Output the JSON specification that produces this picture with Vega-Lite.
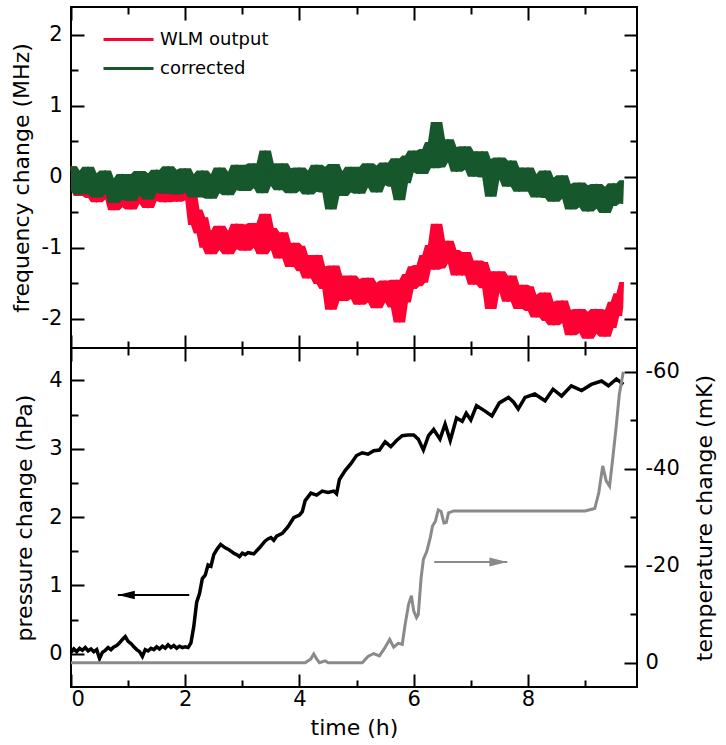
{
  "$schema": "https://vega.github.io/schema/vega-lite/v6.json",
  "padding": {"left": 9, "top": 5, "right": 5, "bottom": 5},
  "bounds": "flush",
  "spacing": 0,
  "config": {
    "font": "DejaVu Sans",
    "view": {"stroke": "#000000", "strokeWidth": 2},
    "axis": {"labelFont": "DejaVu Sans", "titleFont": "DejaVu Sans", "labelFontSize": 21, "titleFontSize": 22, "titleFontWeight": "normal", "labelColor": "#000000", "titleColor": "#000000", "ticks": true, "tickColor": "#000000", "tickWidth": 2, "domain": false, "grid": false}
  },
  "datasets": {
    "freq": [
      {"t":0.00,"w":0.15,"c":0.15},{"t":0.05,"w":-0.19,"c":-0.19},{"t":0.10,"w":0.05,"c":0.06},{"t":0.15,"w":-0.27,"c":-0.25},{"t":0.20,"w":0.07,"c":0.09},
      {"t":0.25,"w":-0.17,"c":-0.14},{"t":0.30,"w":0.10,"c":0.14},{"t":0.35,"w":-0.30,"c":-0.25},{"t":0.40,"w":-0.09,"c":-0.03},{"t":0.45,"w":-0.36,"c":-0.29},
      {"t":0.50,"w":-0.03,"c":0.05},{"t":0.55,"w":-0.32,"c":-0.24},{"t":0.60,"w":0.00,"c":0.09},{"t":0.65,"w":-0.28,"c":-0.19},{"t":0.70,"w":-0.12,"c":-0.02},
      {"t":0.75,"w":-0.47,"c":-0.37},{"t":0.80,"w":-0.17,"c":-0.07},{"t":0.85,"w":-0.43,"c":-0.32},{"t":0.90,"w":-0.07,"c":0.04},{"t":0.95,"w":-0.38,"c":-0.26},
      {"t":1.00,"w":-0.15,"c":-0.03},{"t":1.05,"w":-0.46,"c":-0.34},{"t":1.10,"w":-0.08,"c":0.04},{"t":1.15,"w":-0.33,"c":-0.21},{"t":1.20,"w":-0.04,"c":0.08},
      {"t":1.25,"w":-0.38,"c":-0.26},{"t":1.30,"w":-0.16,"c":-0.04},{"t":1.35,"w":-0.44,"c":-0.32},{"t":1.40,"w":-0.07,"c":0.05},{"t":1.45,"w":-0.34,"c":-0.22},
      {"t":1.50,"w":-0.02,"c":0.10},{"t":1.55,"w":-0.26,"c":-0.14},{"t":1.60,"w":-0.08,"c":0.04},{"t":1.65,"w":-0.36,"c":-0.24},{"t":1.70,"w":0.04,"c":0.15},
      {"t":1.75,"w":-0.30,"c":-0.19},{"t":1.80,"w":-0.08,"c":0.03},{"t":1.85,"w":-0.35,"c":-0.25},{"t":1.90,"w":0.00,"c":0.10},{"t":1.95,"w":-0.26,"c":-0.16},
      {"t":2.00,"w":0.02,"c":0.12},{"t":2.05,"w":-0.33,"c":-0.22},{"t":2.10,"w":-0.20,"c":0.02},{"t":2.15,"w":-0.68,"c":-0.29},{"t":2.20,"w":-0.46,"c":0.04},
      {"t":2.25,"w":-0.80,"c":-0.20},{"t":2.30,"w":-0.57,"c":0.09},{"t":2.35,"w":-1.00,"c":-0.29},{"t":2.40,"w":-0.82,"c":-0.06},{"t":2.45,"w":-1.09,"c":-0.31},
      {"t":2.50,"w":-0.76,"c":0.04},{"t":2.55,"w":-1.03,"c":-0.23},{"t":2.60,"w":-0.69,"c":0.13},{"t":2.65,"w":-0.95,"c":-0.13},{"t":2.70,"w":-0.76,"c":0.07},
      {"t":2.75,"w":-1.09,"c":-0.26},{"t":2.80,"w":-0.78,"c":0.05},{"t":2.85,"w":-1.02,"c":-0.19},{"t":2.90,"w":-0.66,"c":0.17},{"t":2.95,"w":-0.96,"c":-0.12},
      {"t":3.00,"w":-0.72,"c":0.12},{"t":3.05,"w":-1.04,"c":-0.20},{"t":3.10,"w":-0.67,"c":0.17},{"t":3.15,"w":-0.94,"c":-0.10},{"t":3.20,"w":-0.65,"c":0.19},
      {"t":3.25,"w":-1.00,"c":-0.16},{"t":3.30,"w":-0.79,"c":0.06},{"t":3.35,"w":-1.09,"c":-0.23},{"t":3.40,"w":-0.52,"c":0.37},{"t":3.45,"w":-1.03,"c":-0.13},
      {"t":3.50,"w":-0.72,"c":0.19},{"t":3.55,"w":-0.99,"c":-0.06},{"t":3.60,"w":-0.84,"c":0.10},{"t":3.65,"w":-1.15,"c":-0.19},{"t":3.70,"w":-0.78,"c":0.19},
      {"t":3.75,"w":-1.15,"c":-0.16},{"t":3.80,"w":-0.96,"c":0.05},{"t":3.85,"w":-1.27,"c":-0.23},{"t":3.90,"w":-0.93,"c":0.12},{"t":3.95,"w":-1.22,"c":-0.14},
      {"t":4.00,"w":-0.97,"c":0.13},{"t":4.05,"w":-1.33,"c":-0.20},{"t":4.10,"w":-1.10,"c":0.05},{"t":4.15,"w":-1.43,"c":-0.25},{"t":4.20,"w":-1.11,"c":0.09},
      {"t":4.25,"w":-1.36,"c":-0.13},{"t":4.30,"w":-1.10,"c":0.17},{"t":4.35,"w":-1.51,"c":-0.21},{"t":4.40,"w":-1.30,"c":0.03},{"t":4.45,"w":-1.58,"c":-0.22},
      {"t":4.50,"w":-1.26,"c":0.14},{"t":4.55,"w":-1.87,"c":-0.46},{"t":4.60,"w":-1.25,"c":0.18},{"t":4.65,"w":-1.54,"c":-0.09},{"t":4.70,"w":-1.39,"c":0.08},
      {"t":4.75,"w":-1.75,"c":-0.27},{"t":4.80,"w":-1.46,"c":0.03},{"t":4.85,"w":-1.72,"c":-0.22},{"t":4.90,"w":-1.39,"c":0.14},{"t":4.95,"w":-1.70,"c":-0.16},
      {"t":5.00,"w":-1.48,"c":0.07},{"t":5.05,"w":-1.80,"c":-0.24},{"t":5.10,"w":-1.44,"c":0.14},{"t":5.15,"w":-1.70,"c":-0.11},{"t":5.20,"w":-1.42,"c":0.19},
      {"t":5.25,"w":-1.77,"c":-0.15},{"t":5.30,"w":-1.56,"c":0.07},{"t":5.35,"w":-1.85,"c":-0.22},{"t":5.40,"w":-1.49,"c":0.16},{"t":5.45,"w":-1.77,"c":-0.12},
      {"t":5.50,"w":-1.46,"c":0.20},{"t":5.55,"w":-1.71,"c":-0.04},{"t":5.60,"w":-1.54,"c":0.14},{"t":5.65,"w":-1.84,"c":-0.14},{"t":5.70,"w":-1.45,"c":0.26},
      {"t":5.75,"w":-2.05,"c":-0.33},{"t":5.80,"w":-1.54,"c":0.17},{"t":5.85,"w":-1.77,"c":-0.09},{"t":5.90,"w":-1.37,"c":0.30},{"t":5.95,"w":-1.58,"c":0.06},
      {"t":6.00,"w":-1.26,"c":0.37},{"t":6.05,"w":-1.54,"c":0.06},{"t":6.10,"w":-1.24,"c":0.32},{"t":6.15,"w":-1.49,"c":0.04},{"t":6.20,"w":-1.10,"c":0.39},
      {"t":6.25,"w":-1.27,"c":0.19},{"t":6.30,"w":-0.96,"c":0.49},{"t":6.35,"w":-1.31,"c":0.12},{"t":6.40,"w":-0.66,"c":0.77},{"t":6.45,"w":-1.29,"c":0.13},
      {"t":6.50,"w":-0.92,"c":0.49},{"t":6.55,"w":-1.22,"c":0.20},{"t":6.60,"w":-0.90,"c":0.53},{"t":6.65,"w":-1.19,"c":0.25},{"t":6.70,"w":-1.03,"c":0.42},
      {"t":6.75,"w":-1.39,"c":0.07},{"t":6.80,"w":-1.11,"c":0.36},{"t":6.85,"w":-1.39,"c":0.10},{"t":6.90,"w":-1.06,"c":0.43},{"t":6.95,"w":-1.39,"c":0.12},
      {"t":7.00,"w":-1.18,"c":0.34},{"t":7.05,"w":-1.52,"c":0.00},{"t":7.10,"w":-1.18,"c":0.36},{"t":7.15,"w":-1.46,"c":0.08},{"t":7.20,"w":-1.20,"c":0.36},
      {"t":7.25,"w":-1.57,"c":-0.01},{"t":7.30,"w":-1.37,"c":0.20},{"t":7.35,"w":-1.86,"c":-0.28},{"t":7.40,"w":-1.33,"c":0.25},{"t":7.45,"w":-1.63,"c":-0.04},
      {"t":7.50,"w":-1.33,"c":0.27},{"t":7.55,"w":-1.60,"c":0.01},{"t":7.60,"w":-1.45,"c":0.16},{"t":7.65,"w":-1.76,"c":-0.14},{"t":7.70,"w":-1.39,"c":0.23},
      {"t":7.75,"w":-1.76,"c":-0.13},{"t":7.80,"w":-1.56,"c":0.08},{"t":7.85,"w":-1.86,"c":-0.21},{"t":7.90,"w":-1.52,"c":0.13},{"t":7.95,"w":-1.80,"c":-0.14},
      {"t":8.00,"w":-1.54,"c":0.13},{"t":8.05,"w":-1.89,"c":-0.21},{"t":8.10,"w":-1.66,"c":0.03},{"t":8.15,"w":-1.98,"c":-0.29},{"t":8.20,"w":-1.66,"c":0.04},
      {"t":8.25,"w":-1.90,"c":-0.19},{"t":8.30,"w":-1.63,"c":0.09},{"t":8.35,"w":-2.03,"c":-0.30},{"t":8.40,"w":-1.82,"c":-0.09},{"t":8.45,"w":-2.09,"c":-0.35},
      {"t":8.50,"w":-1.76,"c":-0.01},{"t":8.55,"w":-2.06,"c":-0.31},{"t":8.60,"w":-1.74,"c":0.02},{"t":8.65,"w":-2.03,"c":-0.27},{"t":8.70,"w":-1.87,"c":-0.10},
      {"t":8.75,"w":-2.23,"c":-0.46},{"t":8.80,"w":-1.94,"c":-0.17},{"t":8.85,"w":-2.20,"c":-0.43},{"t":8.90,"w":-1.86,"c":-0.08},{"t":8.95,"w":-2.18,"c":-0.39},
      {"t":9.00,"w":-1.96,"c":-0.17},{"t":9.05,"w":-2.28,"c":-0.49},{"t":9.10,"w":-1.90,"c":-0.12},{"t":9.15,"w":-2.16,"c":-0.39},{"t":9.20,"w":-1.86,"c":-0.10},
      {"t":9.25,"w":-2.21,"c":-0.45},{"t":9.30,"w":-1.98,"c":-0.23},{"t":9.35,"w":-2.25,"c":-0.51},{"t":9.40,"w":-1.87,"c":-0.14},{"t":9.45,"w":-2.13,"c":-0.41},
      {"t":9.50,"w":-1.76,"c":-0.09},{"t":9.55,"w":-1.96,"c":-0.32},{"t":9.60,"w":-1.64,"c":-0.12},{"t":9.65,"w":-1.83,"c":-0.38},{"t":9.67,"w":-1.48,"c":-0.05}
    ],
    "pres": [
      {"t":0.00,"p":0.02},{"t":0.05,"p":0.07},{"t":0.10,"p":0.03},{"t":0.15,"p":0.08},{"t":0.20,"p":0.05},{"t":0.25,"p":0.09},{"t":0.30,"p":0.04},{"t":0.35,"p":0.07},
      {"t":0.40,"p":0.03},{"t":0.45,"p":0.06},{"t":0.50,"p":-0.07},{"t":0.55,"p":0.02},{"t":0.60,"p":0.05},{"t":0.65,"p":0.09},{"t":0.70,"p":0.06},{"t":0.75,"p":0.10},
      {"t":0.80,"p":0.12},{"t":0.85,"p":0.16},{"t":0.90,"p":0.21},{"t":0.95,"p":0.25},{"t":1.00,"p":0.18},{"t":1.05,"p":0.15},{"t":1.10,"p":0.10},{"t":1.15,"p":0.06},
      {"t":1.20,"p":0.03},{"t":1.25,"p":-0.04},{"t":1.30,"p":0.06},{"t":1.35,"p":0.04},{"t":1.40,"p":0.08},{"t":1.45,"p":0.06},{"t":1.50,"p":0.10},{"t":1.55,"p":0.07},
      {"t":1.60,"p":0.11},{"t":1.65,"p":0.08},{"t":1.70,"p":0.13},{"t":1.75,"p":0.09},{"t":1.80,"p":0.12},{"t":1.85,"p":0.08},{"t":1.90,"p":0.11},{"t":1.95,"p":0.09},
      {"t":2.00,"p":0.10},{"t":2.05,"p":0.09},{"t":2.10,"p":0.16},{"t":2.15,"p":0.4},{"t":2.2,"p":0.75},{"t":2.25,"p":0.88},{"t":2.3,"p":1.1},{"t":2.35,"p":1.15},
      {"t":2.4,"p":1.3},{"t":2.45,"p":1.28},{"t":2.5,"p":1.45},{"t":2.55,"p":1.52},{"t":2.62,"p":1.6},{"t":2.7,"p":1.55},{"t":2.75,"p":1.53},{"t":2.8,"p":1.5},
      {"t":2.85,"p":1.47},{"t":2.9,"p":1.45},{"t":2.95,"p":1.42},{"t":3.0,"p":1.47},{"t":3.05,"p":1.45},{"t":3.1,"p":1.48},{"t":3.15,"p":1.47},{"t":3.2,"p":1.46},
      {"t":3.3,"p":1.55},{"t":3.4,"p":1.65},{"t":3.45,"p":1.68},{"t":3.5,"p":1.7},{"t":3.55,"p":1.66},{"t":3.6,"p":1.72},{"t":3.7,"p":1.76},{"t":3.8,"p":1.86},
      {"t":3.9,"p":1.99},{"t":3.95,"p":2.01},{"t":4.0,"p":2.03},{"t":4.05,"p":2.08},{"t":4.1,"p":2.24},{"t":4.2,"p":2.35},{"t":4.3,"p":2.32},{"t":4.4,"p":2.38},
      {"t":4.5,"p":2.36},{"t":4.6,"p":2.38},{"t":4.65,"p":2.34},{"t":4.7,"p":2.55},{"t":4.8,"p":2.68},{"t":4.9,"p":2.78},{"t":5.0,"p":2.9},{"t":5.1,"p":2.94},
      {"t":5.2,"p":2.92},{"t":5.3,"p":2.97},{"t":5.4,"p":2.98},{"t":5.5,"p":3.1},{"t":5.6,"p":3.03},{"t":5.7,"p":3.12},{"t":5.8,"p":3.19},{"t":5.9,"p":3.2},
      {"t":6.0,"p":3.2},{"t":6.08,"p":3.14},{"t":6.17,"p":2.98},{"t":6.26,"p":3.19},{"t":6.35,"p":3.28},{"t":6.46,"p":3.14},{"t":6.55,"p":3.36},{"t":6.64,"p":3.12},
      {"t":6.75,"p":3.45},{"t":6.85,"p":3.4},{"t":6.92,"p":3.52},{"t":7.0,"p":3.42},{"t":7.1,"p":3.63},{"t":7.25,"p":3.55},{"t":7.37,"p":3.48},{"t":7.5,"p":3.67},
      {"t":7.66,"p":3.75},{"t":7.75,"p":3.68},{"t":7.83,"p":3.58},{"t":7.95,"p":3.75},{"t":8.12,"p":3.8},{"t":8.3,"p":3.7},{"t":8.44,"p":3.87},{"t":8.59,"p":3.77},
      {"t":8.76,"p":3.92},{"t":8.94,"p":3.85},{"t":9.11,"p":3.94},{"t":9.29,"p":3.99},{"t":9.41,"p":3.92},{"t":9.55,"p":4.02},{"t":9.67,"p":3.94}
    ],
    "temp": [
      {"t":0,"T":0},{"t":4.1,"T":0},{"t":4.2,"T":-0.8},{"t":4.25,"T":-1.8},{"t":4.3,"T":-0.8},{"t":4.35,"T":0},{"t":4.45,"T":-0.4},{"t":4.5,"T":0},
      {"t":5.1,"T":0},{"t":5.2,"T":-1.3},{"t":5.3,"T":-1.9},{"t":5.4,"T":-1.4},{"t":5.48,"T":-2.8},{"t":5.58,"T":-4.8},{"t":5.65,"T":-3.2},{"t":5.73,"T":-4.0},
      {"t":5.8,"T":-3.8},{"t":5.85,"T":-7.9},{"t":5.91,"T":-12.0},{"t":5.96,"T":-13.8},{"t":6.0,"T":-10.7},{"t":6.05,"T":-9.3},{"t":6.08,"T":-9.9},{"t":6.13,"T":-17.5},
      {"t":6.17,"T":-21.3},{"t":6.23,"T":-23.0},{"t":6.29,"T":-25.8},{"t":6.33,"T":-28.2},{"t":6.38,"T":-29.2},{"t":6.43,"T":-31.5},{"t":6.48,"T":-31.2},{"t":6.53,"T":-28.8},
      {"t":6.57,"T":-28.9},{"t":6.61,"T":-30.9},{"t":6.7,"T":-31.3},{"t":9.0,"T":-31.3},{"t":9.17,"T":-31.8},{"t":9.24,"T":-35.0},{"t":9.31,"T":-40.6},{"t":9.37,"T":-37.5},
      {"t":9.43,"T":-36.4},{"t":9.49,"T":-42.6},{"t":9.55,"T":-49.2},{"t":9.6,"T":-55.3},{"t":9.67,"T":-60.0}
    ],
    "parrow": [{"start":2.07,"tip":0.82,"v":0.86}],
    "tarrow": [{"start":6.36,"tip":7.64,"v":-20.8}]
  },
  "resolve": {"scale": {"x": "independent", "y": "independent"}},
  "vconcat": [
    {
      "width": 566,
      "height": 341,
      "data": {"name": "freq"},
      "transform": [
        {"window": [{"op": "min", "field": "w", "as": "wlo"}, {"op": "max", "field": "w", "as": "whi"},
                    {"op": "min", "field": "c", "as": "clo"}, {"op": "max", "field": "c", "as": "chi"}],
         "frame": [-2, 2], "sort": [{"field": "t"}]}
      ],
      "layer": [
        {
          "mark": {"type": "area", "color": "#ff0033", "opacity": 1},
          "encoding": {
            "x": {"field": "t", "type": "quantitative", "scale": {"domain": [0, 9.91], "nice": false, "zero": false},
                  "axis": {"orient": "bottom", "values": [0,2,4,6,8], "labels": false, "title": null, "tickSize": 13, "offset": -13}},
            "y": {"field": "wlo", "type": "quantitative", "scale": {"domain": [-2.41, 2.39], "nice": false, "zero": false},
                  "axis": {"orient": "left", "values": [-2,-1,0,1,2], "title": "frequency change (MHz)", "tickSize": 13, "offset": -13,
                           "labelExpr": "'' + datum.value", "labelPadding": 9, "titlePadding": 8}},
            "y2": {"field": "whi"}
          }
        },
        {
          "mark": {"type": "line", "strokeWidth": 1.5},
          "encoding": {
            "x": {"field": "t", "type": "quantitative",
                  "axis": {"orient": "bottom", "values": [1,3,5,7,9], "labels": false, "title": null, "tickSize": 7, "offset": -7}},
            "y": {"field": "w", "type": "quantitative",
                  "axis": {"orient": "left", "values": [-1.5,-0.5,0.5,1.5], "labels": false, "title": null, "tickSize": 7, "offset": -7}},
            "color": {"datum": "WLM output", "type": "nominal",
                      "scale": {"domain": ["WLM output", "corrected"], "range": ["#ff0033", "#17572c"]},
                      "legend": {"orient": "none", "legendX": 46, "legendY": 21, "title": null, "symbolType": "M-2.5,0L2.5,0",
                                 "symbolSize": 400, "symbolStrokeWidth": 3, "symbolFillColor": "transparent", "labelFontSize": 18, "labelFont": "DejaVu Sans",
                                 "labelColor": "#000000", "rowPadding": 8, "labelOffset": 20, "padding": 0}}
          }
        },
        {
          "mark": {"type": "area", "color": "#17572c", "opacity": 1},
          "encoding": {
            "x": {"field": "t", "type": "quantitative",
                  "axis": {"orient": "top", "values": [0,2,4,6,8], "labels": false, "title": null, "tickSize": 13, "offset": -13}},
            "y": {"field": "clo", "type": "quantitative",
                  "axis": {"orient": "right", "values": [-2,-1,0,1,2], "labels": false, "title": null, "tickSize": 13, "offset": -13}},
            "y2": {"field": "chi"}
          }
        },
        {
          "mark": {"type": "line", "strokeWidth": 1.5},
          "encoding": {
            "x": {"field": "t", "type": "quantitative",
                  "axis": {"orient": "top", "values": [1,3,5,7,9], "labels": false, "title": null, "tickSize": 7, "offset": -7}},
            "y": {"field": "c", "type": "quantitative",
                  "axis": {"orient": "right", "values": [-1.5,-0.5,0.5,1.5], "labels": false, "title": null, "tickSize": 7, "offset": -7}},
            "color": {"datum": "corrected", "type": "nominal"}
          }
        }
      ],
      "resolve": {"axis": {"x": "independent", "y": "independent"}}
    },
    {
      "width": 566,
      "height": 339,
      "layer": [
        {
          "data": {"name": "pres"},
          "mark": {"type": "line", "strokeWidth": 3.5, "color": "#000000"},
          "encoding": {
            "x": {"field": "t", "type": "quantitative", "scale": {"domain": [0, 9.91], "nice": false, "zero": false},
                  "axis": {"orient": "bottom", "values": [0,2,4,6,8], "title": "time (h)", "titlePadding": 8,
                           "labelExpr": "'' + datum.value", "labelPadding": 1, "tickSize": 13, "offset": -13}},
            "y": {"field": "p", "type": "quantitative", "scale": {"domain": [-0.487, 4.473], "nice": false, "zero": false},
                  "axis": {"orient": "left", "values": [0,1,2,3,4], "title": "pressure change (hPa)",
                           "labelExpr": "'' + datum.value", "labelPadding": 9, "titlePadding": 12, "tickSize": 13, "offset": -13}}
          }
        },
        {
          "data": {"name": "temp"},
          "mark": {"type": "line", "strokeWidth": 3, "color": "#8a8a8a"},
          "encoding": {
            "x": {"field": "t", "type": "quantitative", "scale": {"domain": [0, 9.91], "nice": false, "zero": false},
                  "axis": {"orient": "top", "values": [0,2,4,6,8], "labels": false, "title": null, "tickSize": 13, "offset": -13}},
            "y": {"field": "T", "type": "quantitative", "scale": {"domain": [-64.9, 5], "reverse": true, "nice": false, "zero": false},
                  "axis": {"orient": "right", "values": [0,-20,-40,-60], "title": "temperature change (mK)", "titleAngle": 270, "titleBaseline": "top",
                           "labelExpr": "'' + datum.value", "labelPadding": 8, "titlePadding": 15, "tickSize": 13, "offset": -13}}
          }
        },
        {
          "data": {"name": "parrow"},
          "mark": {"type": "rule", "strokeWidth": 2, "color": "#000000"},
          "encoding": {
            "x": {"field": "start", "type": "quantitative", "scale": {"domain": [0, 9.91], "nice": false, "zero": false},
                  "axis": {"orient": "bottom", "values": [1,3,5,7,9], "labels": false, "title": null, "tickSize": 7, "offset": -7}},
            "x2": {"field": "tip"},
            "y": {"field": "v", "type": "quantitative", "scale": {"domain": [-0.487, 4.473], "nice": false, "zero": false},
                  "axis": {"orient": "left", "values": [0.5,1.5,2.5,3.5], "labels": false, "title": null, "tickSize": 7, "offset": -7}}
          }
        },
        {
          "data": {"name": "parrow"},
          "mark": {"type": "point", "filled": true, "shape": "M0,0L2,-0.5L2,0.5Z", "size": 289, "color": "#000000", "opacity": 1, "strokeWidth": 0},
          "encoding": {
            "x": {"field": "tip", "type": "quantitative", "scale": {"domain": [0, 9.91], "nice": false, "zero": false}, "axis": null},
            "y": {"field": "v", "type": "quantitative", "scale": {"domain": [-0.487, 4.473], "nice": false, "zero": false}, "axis": null}
          }
        },
        {
          "data": {"name": "tarrow"},
          "mark": {"type": "rule", "strokeWidth": 2, "color": "#8a8a8a"},
          "encoding": {
            "x": {"field": "start", "type": "quantitative", "scale": {"domain": [0, 9.91], "nice": false, "zero": false},
                  "axis": {"orient": "top", "values": [1,3,5,7,9], "labels": false, "title": null, "tickSize": 7, "offset": -7}},
            "x2": {"field": "tip"},
            "y": {"field": "v", "type": "quantitative", "scale": {"domain": [-64.9, 5], "reverse": true, "nice": false, "zero": false},
                  "axis": {"orient": "right", "values": [-10,-30,-50], "labels": false, "title": null, "tickSize": 7, "offset": -7}}
          }
        },
        {
          "data": {"name": "tarrow"},
          "mark": {"type": "point", "filled": true, "shape": "M0,0L-2,-0.5L-2,0.5Z", "size": 324, "color": "#8a8a8a", "opacity": 1, "strokeWidth": 0},
          "encoding": {
            "x": {"field": "tip", "type": "quantitative", "scale": {"domain": [0, 9.91], "nice": false, "zero": false}, "axis": null},
            "y": {"field": "v", "type": "quantitative", "scale": {"domain": [-64.9, 5], "reverse": true, "nice": false, "zero": false}, "axis": null}
          }
        }
      ],
      "resolve": {"scale": {"y": "independent"}, "axis": {"x": "independent", "y": "independent"}}
    }
  ]
}
